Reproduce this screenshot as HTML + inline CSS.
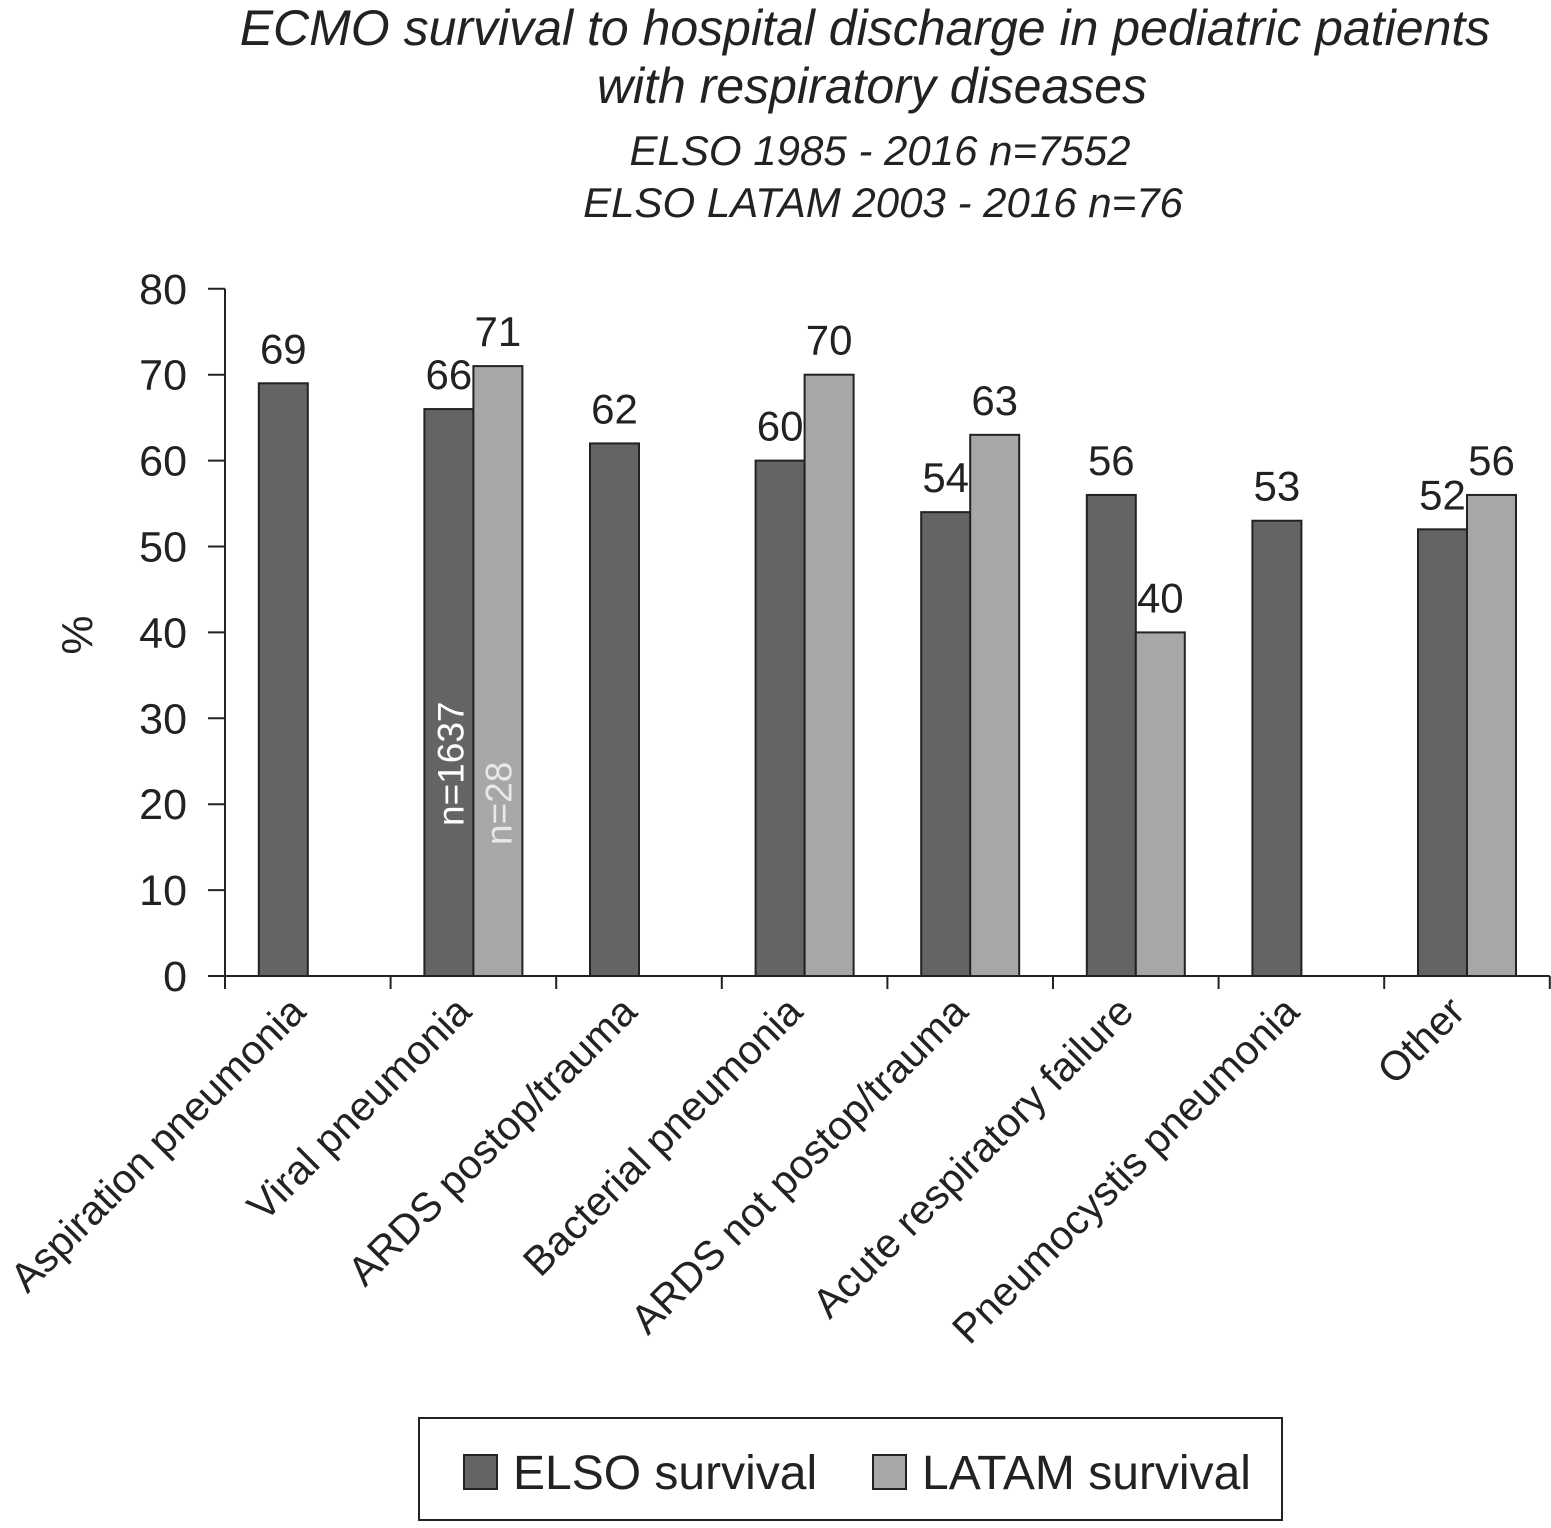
<!DOCTYPE html>
<html><head><meta charset="utf-8"><style>
body{margin:0;background:#fff}
svg text{font-family:"Liberation Sans",sans-serif;fill:#222}
</style></head><body>
<svg id="chart" width="1551" height="1523" xmlns="http://www.w3.org/2000/svg">
<g font-style="italic" text-anchor="middle">
<text x="865" y="45" font-size="50">ECMO survival to hospital discharge in pediatric patients</text>
<text x="872" y="103" font-size="50">with respiratory diseases</text>
<text x="880" y="165" font-size="42">ELSO 1985 - 2016 n=7552</text>
<text x="883" y="217" font-size="42">ELSO LATAM 2003 - 2016 n=76</text>
</g>
<text x="92" y="635" font-size="44" text-anchor="middle" transform="rotate(-90 92 635)">%</text>
<g id="plot"></g>
<rect x="419" y="1418" width="863" height="102" fill="#fff" stroke="#222" stroke-width="2"/>
<rect x="464" y="1455" width="33" height="34" fill="#636466" stroke="#222" stroke-width="2"/>
<text x="513" y="1489" font-size="48">ELSO survival</text>
<rect x="873" y="1455" width="33" height="34" fill="#a6a7a9" stroke="#222" stroke-width="2"/>
<text x="922" y="1489" font-size="48">LATAM survival</text>
</svg>
<script>
const categories=["Aspiration pneumonia","Viral pneumonia","ARDS postop/trauma","Bacterial pneumonia","ARDS not postop/trauma","Acute respiratory failure","Pneumocystis pneumonia","Other"];
const elso=[69,66,62,60,54,56,53,52];
const latam=[null,71,null,70,63,40,null,56];
const yTicks=[0,10,20,30,40,50,60,70,80];
const NS="http://www.w3.org/2000/svg";
const g=document.getElementById('plot');
const x0=225,y0=976,catW=165.6,bw=49;
const yS=v=>y0-v*8.59;
const cx=i=>x0+catW*(i+0.5);
function mk(t,a,txt){const e=document.createElementNS(NS,t);for(const k in a)e.setAttribute(k,a[k]);if(txt!=null)e.textContent=txt;g.appendChild(e);return e;}
yTicks.forEach(v=>{
 const t=mk('line',{x1:208,x2:x0,y1:yS(v),y2:yS(v),stroke:'#222','stroke-width':2});
 
 
 const l=mk('text',{x:187,y:yS(v)+15,'font-size':43,'text-anchor':'end'},v);
 
 
});
function bar(v,xl,fill,name){
 const r=mk('rect',{x:xl,y:yS(v),width:bw,height:y0-yS(v),fill:fill,stroke:'#222','stroke-width':2});
 
 
 const t=mk('text',{x:xl+bw/2,y:yS(v)-20,'font-size':42,'text-anchor':'middle'},v);
 
 
}
categories.forEach((c,i)=>{
 const c0=cx(i);
 bar(elso[i],c0-bw,'#636466','bar-elso');
 if(latam[i]!=null)bar(latam[i],c0,'#a6a7a9','bar-latam');
 const l=mk('text',{x:c0,y:1014,'font-size':41,'text-anchor':'end',transform:`rotate(-45 ${c0} 1014)`},c);
 
 
});
for(let i=0;i<=categories.length;i++){
 const t=mk('line',{x1:x0+catW*i,x2:x0+catW*i,y1:y0,y2:y0+13,stroke:'#222','stroke-width':2});
 
 
}
const ya=mk('line',{x1:x0,x2:x0,y1:yS(80),y2:y0,stroke:'#222','stroke-width':2});


const xa=mk('line',{x1:208,x2:x0+catW*8,y1:y0,y2:y0,stroke:'#222','stroke-width':2});


const n1=mk('text',{x:0,y:0,'font-size':37,transform:`translate(${cx(1)-10} 826) rotate(-90)`},'n=1637');
n1.setAttribute('style','fill:#fff');


const n2=mk('text',{x:0,y:0,'font-size':37,transform:`translate(${cx(1)+38} 845) rotate(-90)`},'n=28');
n2.setAttribute('style','fill:#e8e8e8');


</script>
</body></html>
